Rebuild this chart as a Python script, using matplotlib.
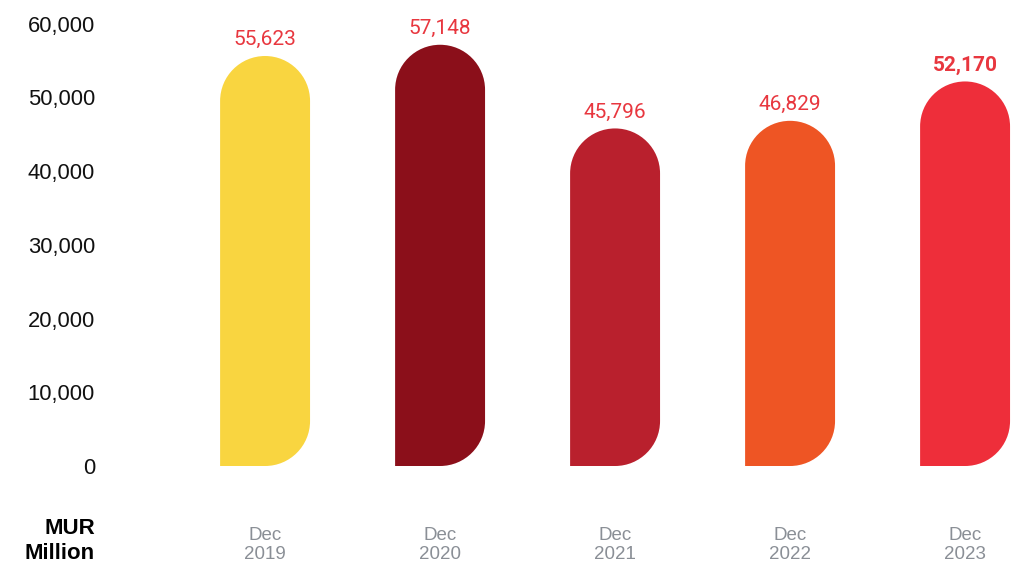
import matplotlib.pyplot as plt
from matplotlib.path import Path
from matplotlib.patches import PathPatch

years = ["Dec\n2019", "Dec\n2020", "Dec\n2021", "Dec\n2022", "Dec\n2023"]
values = [55623, 57148, 45796, 46829, 52170]
colors = ["#F9D540", "#8B0F1A", "#B9202D", "#EE5524", "#EE2E3A"]
yticks = [0, 10000, 20000, 30000, 40000, 50000, 60000]

W, H, DPI = 1023, 567, 100
fig = plt.figure(figsize=(W / DPI, H / DPI), dpi=DPI)

# axes placed in pixels so the rounded ends come out as circles
left_px, right_px, bottom_px, top_px = 120, 1023, 466, 9
ax = fig.add_axes([left_px / W, (H - bottom_px) / H,
                   (right_px - left_px) / W, (bottom_px - top_px) / H])
xlim = (-0.829, 4.331)
ylim = (0, 62000)
ax.set_xlim(*xlim)
ax.set_ylim(*ylim)

sx = (right_px - left_px) / (xlim[1] - xlim[0])
sy = (bottom_px - top_px) / (ylim[1] - ylim[0])

half = 0.257
rx = half
ry = rx * sx / sy
k = 0.5523


def bar_path(c, h):
    l, r = c - half, c + half
    verts = [
        (l, 0), (r - rx, 0),
        (r - rx + k * rx, 0), (r, ry - k * ry), (r, ry),
        (r, h - ry),
        (r, h - ry + k * ry), (c + k * rx, h), (c, h),
        (c - k * rx, h), (l, h - ry + k * ry), (l, h - ry),
        (l, 0), (l, 0),
    ]
    codes = [Path.MOVETO, Path.LINETO,
             Path.CURVE4, Path.CURVE4, Path.CURVE4,
             Path.LINETO,
             Path.CURVE4, Path.CURVE4, Path.CURVE4,
             Path.CURVE4, Path.CURVE4, Path.CURVE4,
             Path.LINETO, Path.CLOSEPOLY]
    return Path(verts, codes)


for i, (v, col) in enumerate(zip(values, colors)):
    ax.add_patch(PathPatch(bar_path(i, v), facecolor=col, edgecolor="none"))
    ax.text(i, v + 900, f"{v:,}", ha="center", va="bottom",
            color="#E8373F", fontsize=15, family="Roboto",
            fontweight="bold" if i == len(values) - 1 else "normal")

ax.set_yticks(yticks)
ax.set_yticklabels([f"{t:,}" for t in yticks], fontsize=15.8,
                   family="Liberation Sans", color="#111111")
ax.tick_params(axis="y", length=0, pad=18)
ax.set_xticks(range(len(years)))
ax.set_xticklabels(years, fontsize=13.5, family="Liberation Sans",
                   color="#8A8F96", linespacing=1.15)
ax.tick_params(axis="x", length=0, pad=44)
for s in ax.spines.values():
    s.set_visible(False)

fig.text(95 / W, 1 - 541 / H, "MUR\nMillion", ha="right", va="center",
         fontsize=16, fontweight="bold", family="Liberation Sans",
         color="black", linespacing=1.25)

fig.savefig("out.png", dpi=DPI)
